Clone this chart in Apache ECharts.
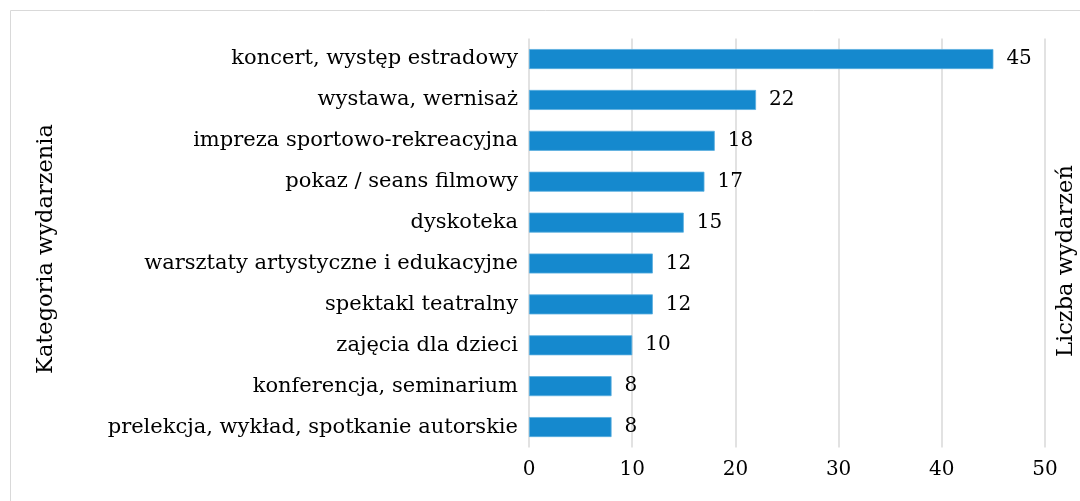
<!DOCTYPE html>
<html><head><meta charset="utf-8">
<script src="https://cdn.jsdelivr.net/npm/echarts@6/dist/echarts.min.js"></script>
<style>html,body{margin:0;padding:0;background:#fff}#c{width:1080px;height:501px}</style>
</head><body><div id="c"></div>
<script>
const categories = ["koncert, występ estradowy","wystawa, wernisaż","impreza sportowo-rekreacyjna","pokaz / seans filmowy","dyskoteka","warsztaty artystyczne i edukacyjne","spektakl teatralny","zajęcia dla dzieci","konferencja, seminarium","prelekcja, wykład, spotkanie autorskie"];
const values = [45,22,18,17,15,12,12,10,8,8];
const xTicks = [0,10,20,30,40,50];
const yTitle = 'Kategoria wydarzenia';
const xTitle = 'Liczba wydarzeń';
const FONT = "DejaVu Serif";
const chart = echarts.init(document.getElementById('c'));
chart.setOption({
  animation:false,
  textStyle:{fontFamily:FONT},
  graphic:[
    {type:'rect',shape:{x:10.5,y:10.5,width:1200,height:600},style:{fill:'none',stroke:'#d9d9d9',lineWidth:1}},
    {type:'text',x:46,y:249,rotation:Math.PI/2,style:{text:yTitle,font:'22.5px "'+FONT+'"',fill:'#000',align:'center',verticalAlign:'middle'}},
    {type:'text',x:1066,y:261,rotation:Math.PI/2,style:{text:xTitle,font:'22.5px "'+FONT+'"',fill:'#000',align:'center',verticalAlign:'middle'}}
  ],
  grid:{left:529,right:35,top:38.6,bottom:53.5},
  xAxis:{type:'value',min:xTicks[0],max:xTicks[xTicks.length-1],interval:10,
    axisLine:{show:false},axisTick:{show:false},
    axisLabel:{color:'#000',fontSize:20,fontFamily:FONT,margin:12},
    splitLine:{lineStyle:{color:'#d9d9d9',width:1.5}}},
  yAxis:{type:'category',data:categories,inverse:true,
    axisLine:{show:false},axisTick:{show:false},
    axisLabel:{color:'#000',fontSize:21,fontFamily:FONT,margin:11}},
  series:[{type:'bar',data:values,barWidth:20,
    itemStyle:{color:'#1589ce',borderColor:'#5aaee0',borderWidth:0.8},
    label:{show:true,position:'right',distance:13,color:'#000',fontSize:20,fontFamily:FONT}}]
});
</script></body></html>
